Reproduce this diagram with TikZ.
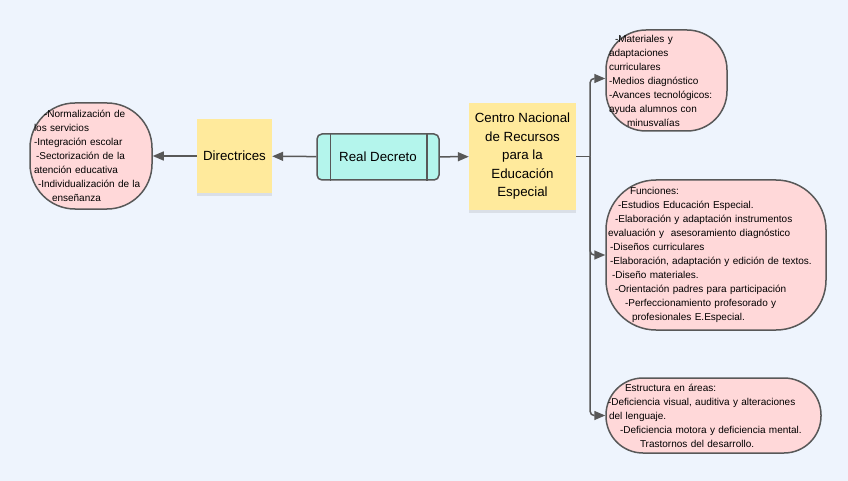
\documentclass[tikz,border=0pt]{standalone}
\usepackage{fontspec}
\setmainfont{Liberation Sans}
\usepackage{tikz}
\usetikzlibrary{arrows.meta,shapes,positioning,shadows}
\usepackage{xcolor}
\definecolor{dffondo}{RGB}{238,244,253}
\definecolor{dfrosa}{RGB}{255,216,217}
\definecolor{dfamarillo}{RGB}{255,234,156}
\definecolor{dfmenta}{RGB}{180,245,236}
\definecolor{dfgris}{RGB}{88,88,88}
\tikzstyle{arrow} = [line width=1.5pt,-{Triangle[length=11pt,width=9pt]},color=dfgris]
\tikzstyle{linea} = [line width=1.5pt,color=dfgris]
\tikzstyle{nota} = [fill=dfamarillo,align=center,font=\fontsize{13.3}{18.5}\selectfont,
  drop shadow={shadow xshift=0pt,shadow yshift=-3pt,opacity=0.12,fill=black!70}]
\tikzstyle{globo} = [draw=dfgris,line width=1.5pt,fill=dfrosa,align=left,
  font=\fontsize{10}{14}\selectfont,inner sep=0pt]

\begin{document}
\begin{tikzpicture}[x=1pt,y=-1pt]
\fill[dffondo] (0,0) rectangle (848,481);
\useasboundingbox (0,0) rectangle (848,481);

% Nodos principales
\node[nota, minimum width=75pt, minimum height=74pt] (directrices) at (234.5,156) {Directrices};
\node[draw=dfgris, line width=1.5pt, fill=dfmenta, rounded corners=5pt,
  minimum width=122pt, minimum height=46pt, font=\fontsize{13.3}{16}\selectfont]
  (decreto) at (378,157) {Real Decreto};
\draw[linea] ([xshift=14pt]decreto.north west) -- ([xshift=14pt]decreto.south west);
\draw[linea] ([xshift=-13pt]decreto.north east) -- ([xshift=-13pt]decreto.south east);
\node[nota, minimum width=107pt, minimum height=107pt] (centro) at (522.5,156.5)
  {Centro Nacional\\de Recursos\\para la\\Educación\\Especial};

% Principios (izquierda)
\node[globo, rounded corners=45pt, minimum width=122pt, minimum height=106pt, text width=114pt]
  (principios) at (91,156) {\hspace*{10pt}-Normalización de\\los servicios\\-Integración escolar\\
  \hspace*{2pt}-Sectorización de la\\atención educativa\\\hspace*{4pt}-Individualización de la\\
  \hspace*{18pt}enseñanza};

% Ramas del Centro (derecha)
\node[globo, rounded corners=40pt, minimum width=121pt, minimum height=101pt, text width=115pt]
  (materiales) at (666.5,80.5) {\hspace*{6pt}-Materiales y\\adaptaciones\\curriculares\\
  -Medios diagnóstico\\-Avances tecnológicos:\\ayuda alumnos con\\\hspace*{18pt}minusvalías};
\node[globo, rounded corners=50pt, minimum width=220pt, minimum height=150pt, text width=216pt]
  (funciones) at (716,255) {\hspace*{22pt}Funciones:\\\hspace*{10pt}-Estudios Educación Especial.\\
  \hspace*{7pt}-Elaboración y adaptación instrumentos\\evaluación y\ \ asesoramiento diagnóstico\\
  \hspace*{2pt}-Diseños curriculares\\\hspace*{2pt}-Elaboración, adaptación y edición de textos.\\
  \hspace*{4pt}-Diseño materiales.\\\hspace*{7pt}-Orientación padres para participación\\
  \hspace*{17pt}-Perfeccionamiento profesorado y\\\hspace*{24pt}profesionales E.Especial.};
\node[globo, rounded corners=37pt, minimum width=215pt, minimum height=75pt, text width=211pt]
  (estructura) at (713.5,415.5) {\hspace*{17pt}Estructura en áreas:\\
  -Deficiencia visual, auditiva y alteraciones\\\hspace*{1pt}del lenguaje.\\
  \hspace*{12pt}-Deficiencia motora y deficiencia mental.\\\hspace*{32pt}Trastornos del desarrollo.};

% Conectores
\draw[arrow] (directrices) -- (principios);
\draw[arrow] (decreto) -- (directrices);
\draw[arrow] (decreto) -- (centro);
\draw[linea] (centro.east) -- ++(14,0) coordinate (rama);
\draw[arrow, rounded corners=4pt] (rama) |- ([yshift=2pt]materiales.west);
\draw[arrow, rounded corners=4pt] (rama) |- (funciones.west);
\draw[arrow, rounded corners=4pt] (rama) |- (estructura.west);
\end{tikzpicture}
\end{document}
